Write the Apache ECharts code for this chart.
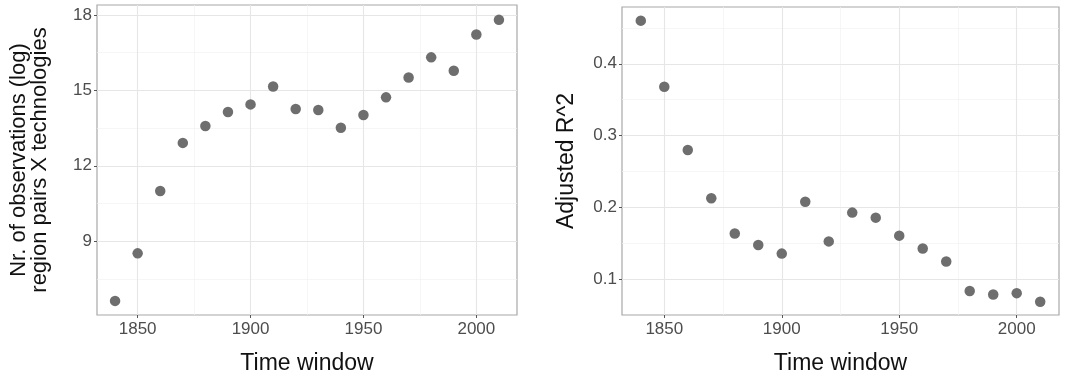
<!DOCTYPE html>
<html>
<head>
<meta charset="utf-8">
<script src="https://cdn.jsdelivr.net/npm/echarts@6/dist/echarts.min.js"></script>
<style>
  html, body { margin: 0; padding: 0; background: #fff; }
  #chart { width: 1084px; height: 380px; }
</style>
</head>
<body>
<div id="chart"></div>
<script>
// data
const years = [1840, 1850, 1860, 1870, 1880, 1890, 1900, 1910, 1920, 1930, 1940, 1950, 1960, 1970, 1980, 1990, 2000, 2010];
const nObsLog = [6.63, 8.52, 11.0, 12.91, 13.58, 14.14, 14.44, 15.15, 14.26, 14.22, 13.51, 14.02, 14.72, 15.51, 16.31, 15.78, 17.22, 17.80];
const adjR2 = [0.460, 0.368, 0.280, 0.213, 0.164, 0.148, 0.136, 0.208, 0.153, 0.193, 0.186, 0.161, 0.143, 0.125, 0.084, 0.079, 0.081, 0.069];

const xTicks = [1850, 1900, 1950, 2000];
const xMinor = [1875, 1925, 1975];
const leftTicks = [9, 12, 15, 18];
const leftMinor = [7.5, 10.5, 13.5, 16.5];
const rightTicks = [0.1, 0.2, 0.3, 0.4];
const rightMinor = [0.15, 0.25, 0.35, 0.45];

const FONT = '"Liberation Sans", Arial, sans-serif';
const labelStyle = { color: '#4d4d4d', fontSize: 17, fontFamily: FONT };
const titleStyle = { color: '#111', fontSize: 23, fontFamily: FONT };

function gridLines(xMaj, xMin, yMaj, yMin) {
  const major = { color: '#e6e6e6', width: 1.1, type: 'solid' };
  const minor = { color: '#f2f2f2', width: 0.7, type: 'solid' };
  const d = [];
  xMin.forEach(v => d.push({ xAxis: v, lineStyle: minor }));
  yMin.forEach(v => d.push({ yAxis: v, lineStyle: minor }));
  xMaj.forEach(v => d.push({ xAxis: v, lineStyle: major }));
  yMaj.forEach(v => d.push({ yAxis: v, lineStyle: major }));
  return d;
}

function xAxisOf(idx) {
  return {
    type: 'value',
    gridIndex: idx,
    min: 1832,
    max: 2018,
    name: 'Time window',
    nameLocation: 'middle',
    nameGap: 37,
    nameTextStyle: titleStyle,
    axisLine: { show: false },
    axisTick: { show: true, length: 3, lineStyle: { color: '#555', width: 1 }, customValues: xTicks },
    axisLabel: Object.assign({ margin: 6, customValues: xTicks, formatter: v => String(v) }, labelStyle),
    splitLine: { show: false }
  };
}

const option = {
  animation: false,
  backgroundColor: '#fff',
  grid: [
    { left: 97, top: 5, width: 420, height: 313, show: true, borderColor: '#a8a8a8', borderWidth: 1.2, backgroundColor: 'transparent' },
    { left: 622, top: 7, width: 437, height: 310, show: true, borderColor: '#a8a8a8', borderWidth: 1.2, backgroundColor: 'transparent' }
  ],
  xAxis: [xAxisOf(0), xAxisOf(1)],
  yAxis: [
    {
      type: 'value',
      gridIndex: 0,
      min: 6.07,
      max: 18.39,
      name: 'Nr. of observations (log)\nregion pairs X technologies',
      nameLocation: 'middle',
      nameRotate: 90,
      nameGap: 47,
      nameTextStyle: Object.assign({}, titleStyle, { fontSize: 22, lineHeight: 21 }),
      axisLine: { show: false },
      axisTick: { show: true, length: 3, lineStyle: { color: '#555', width: 1 }, customValues: leftTicks },
      axisLabel: Object.assign({ margin: 5, customValues: leftTicks }, labelStyle),
      splitLine: { show: false }
    },
    {
      type: 'value',
      gridIndex: 1,
      min: 0.0506,
      max: 0.479,
      name: 'Adjusted R^2',
      nameLocation: 'middle',
      nameRotate: 90,
      nameGap: 44,
      nameTextStyle: titleStyle,
      axisLine: { show: false },
      axisTick: { show: true, length: 3, lineStyle: { color: '#555', width: 1 }, customValues: rightTicks },
      axisLabel: Object.assign({ margin: 5, customValues: rightTicks, formatter: v => v.toFixed(1) }, labelStyle),
      splitLine: { show: false }
    }
  ],
  series: [
    {
      name: 'grid0', type: 'scatter', xAxisIndex: 0, yAxisIndex: 0, data: [], z: 1, silent: true,
      markLine: { silent: true, symbol: 'none', label: { show: false }, data: gridLines(xTicks, xMinor, leftTicks, leftMinor) }
    },
    {
      name: 'grid1', type: 'scatter', xAxisIndex: 1, yAxisIndex: 1, data: [], z: 1, silent: true,
      markLine: { silent: true, symbol: 'none', label: { show: false }, data: gridLines(xTicks, xMinor, rightTicks, rightMinor) }
    },
    {
      name: 'obs', type: 'scatter', xAxisIndex: 0, yAxisIndex: 0, z: 5,
      symbolSize: 10.5,
      itemStyle: { color: '#6e6e6e', opacity: 1 },
      data: years.map((y, i) => [y, nObsLog[i]])
    },
    {
      name: 'r2', type: 'scatter', xAxisIndex: 1, yAxisIndex: 1, z: 5,
      symbolSize: 10.5,
      itemStyle: { color: '#6e6e6e', opacity: 1 },
      data: years.map((y, i) => [y, adjR2[i]])
    }
  ]
};

const chart = echarts.init(document.getElementById('chart'));
chart.setOption(option);
</script>
</body>
</html>
